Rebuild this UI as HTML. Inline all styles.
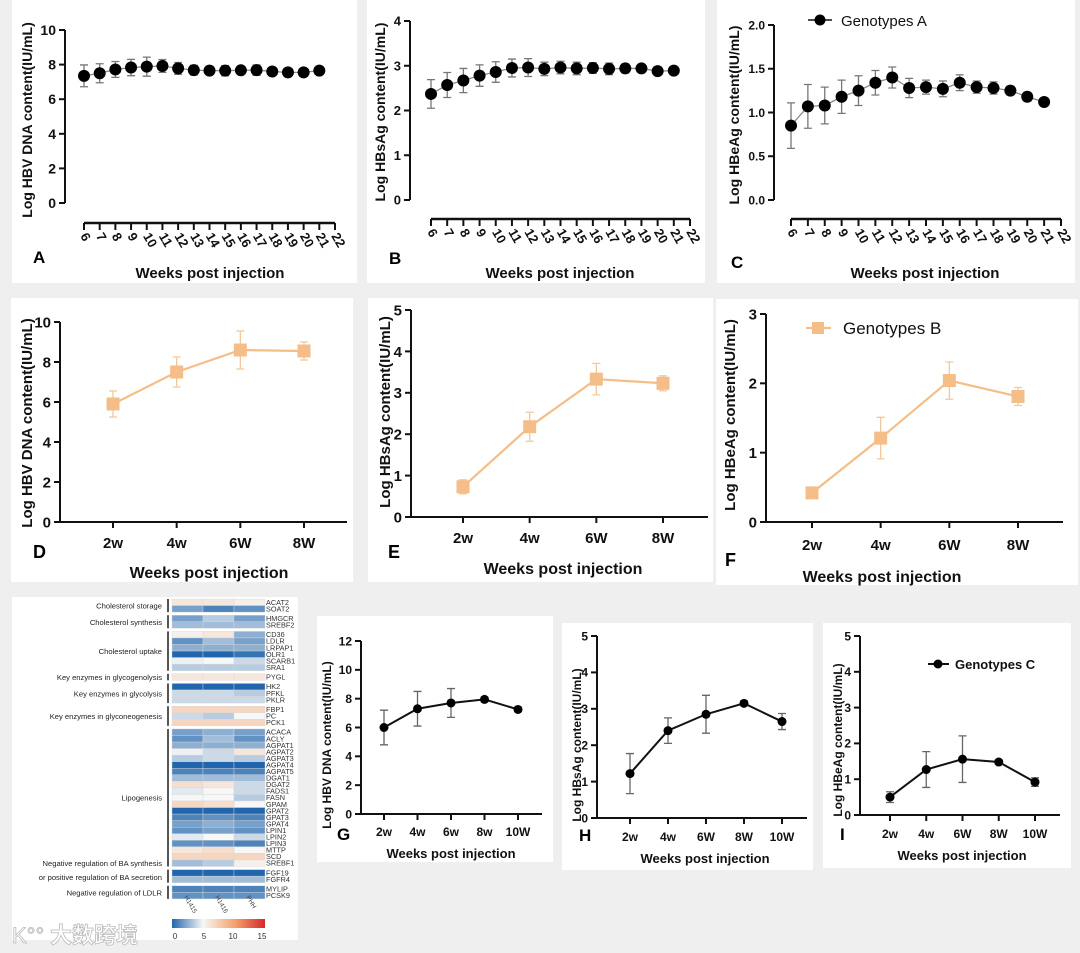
<!DOCTYPE html>
<html><head><meta charset="utf-8">
<style>
html,body{margin:0;padding:0;background:#efefef;}
svg{display:block;font-family:"Liberation Sans","Noto Sans CJK SC",sans-serif;}
</style></head>
<body>
<svg id="fig" width="1080" height="953" viewBox="0 0 1080 953" xmlns="http://www.w3.org/2000/svg">
<rect x="0" y="0" width="1080" height="953" fill="#efefef"/>
</svg>
<script>
// ---- data ----
const weeksA = [6,7,8,9,10,11,12,13,14,15,16,17,18,19,20,21];
const weekTicks = [6,7,8,9,10,11,12,13,14,15,16,17,18,19,20,21,22];
const dnaA = [7.35,7.5,7.72,7.83,7.88,7.92,7.78,7.68,7.65,7.65,7.67,7.68,7.6,7.55,7.55,7.65];
const dnaAErr = [0.63,0.55,0.46,0.47,0.55,0.37,0.34,0.28,0.2,0.3,0.15,0.3,0.15,0.1,0.1,0.2];
const hbsA = [2.37,2.57,2.67,2.78,2.86,2.95,2.96,2.93,2.96,2.94,2.95,2.93,2.94,2.94,2.88,2.89];
const hbsAErr = [0.32,0.28,0.27,0.24,0.23,0.2,0.2,0.15,0.14,0.14,0.12,0.13,0.1,0.06,0.05,0.05];
const hbeA = [0.85,1.07,1.08,1.18,1.25,1.34,1.40,1.28,1.29,1.27,1.34,1.29,1.28,1.25,1.18,1.12];
const hbeAErr = [0.26,0.25,0.21,0.19,0.17,0.14,0.12,0.11,0.08,0.09,0.09,0.07,0.07,0.05,0.05,0.03];
const catsB = ["2w","4w","6W","8W"];
const dnaB = [5.9,7.5,8.6,8.55];
const dnaBErr = [0.65,0.75,0.95,0.45];
const hbsB = [0.73,2.18,3.33,3.23];
const hbsBErr = [0.17,0.35,0.38,0.18];
const hbeB = [0.42,1.21,2.04,1.81];
const hbeBErr = [0.03,0.3,0.27,0.13];
const catsG = ["2w","4w","6w","8w","10W"];
const catsHI = ["2w","4w","6W","8W","10W"];
const dnaC = [6.0,7.3,7.7,7.95,7.25];
const dnaCErr = [1.2,1.2,1.0,0.15,0.15];
const hbsC = [1.22,2.4,2.85,3.15,2.65];
const hbsCErr = [0.55,0.35,0.52,0.06,0.22];
const hbeC = [0.5,1.27,1.56,1.48,0.92];
const hbeCErr = [0.15,0.5,0.65,0.06,0.12];
const genes = ["ACAT2","SOAT2","HMGCR","SREBF2","CD36","LDLR","LRPAP1","OLR1","SCARB1","SRA1","PYGL","HK2","PFKL","PKLR","FBP1","PC","PCK1","ACACA","ACLY","AGPAT1","AGPAT2","AGPAT3","AGPAT4","AGPAT5","DGAT1","DGAT2","FADS1","FASN","GPAM","GPAT2","GPAT3","GPAT4","LPIN1","LPIN2","LPIN3","MTTP","SCD","SREBF1","FGF19","FGFR4","MYLIP","PCSK9"];
const groupNames = ["Cholesterol storage","Cholesterol synthesis","Cholesterol uptake","Key enzymes in glycogenolysis","Key enzymes in glycolysis","Key enzymes in glyconeogenesis","Lipogenesis","Negative regulation of BA synthesis|or positive regulation of BA secretion","Negative regulation of LDLR"];
const groupSizes = [2,2,6,1,3,3,21,2,2];
const samples = ["H1415","H1416","PHH"];
const heatH1415 = [6,2,2,3,5.5,1.5,2.5,0,4.8,3.5,6,0,4,4,7,4,7,2,1.5,2.5,4.8,3.5,0,1,3,6.5,4.5,5,7,0,1,2,1.5,4.5,1.5,6,7,3,0,3,1,1.5];
const heatH1416 = [6,1,3.5,3,6,3,2.5,0,5,3.5,6,0,4,4,7,3.5,7,2.5,3,2.5,4,4,0,1,3,6,5,5,6.5,0,1.5,2.5,2,5,1.5,6.5,7,3.5,0,3,1,1.5];
const heatPHH = [5.5,1.5,2,3,2.5,2,2.5,0.5,4,3.5,6,0,3.5,4,7,5,7,2,1.5,2.5,6,3.5,0,1,3,4,4,3.5,5,0,1,2,1.5,4,1,5,7,5.5,0,3,1,1.5];
const cbTicks = [0,5,10,15];

const NS="http://www.w3.org/2000/svg";
const svg=document.getElementById('fig');
function mk(tag,attrs,parent){const e=document.createElementNS(NS,tag);for(const k in attrs)e.setAttribute(k,attrs[k]);(parent||svg).appendChild(e);return e;}
function txt(s,attrs,parent){const e=mk('text',attrs,parent);e.textContent=s;return e;}

function panelBox(x,y,w,h,name){
  const r=mk('rect',{x:x,y:y,width:w,height:h,fill:'#fff'});
  
  
}

function lineChart(o){
  const g=mk('g',{});
  
  
  const ys=v=>o.y0+(v-o.ymin)/(o.ymax-o.ymin)*(o.y1-o.y0);
  // y axis
  const ya=mk('line',{x1:o.ax,y1:o.y1,x2:o.ax,y2:o.y0,stroke:'#111','stroke-width':2},g);
  
  
  o.yticks.forEach((t,i)=>{
    const p=ys(t);
    const tk=mk('line',{x1:o.ax-6,y1:p,x2:o.ax,y2:p,stroke:'#111','stroke-width':2},g);
    
    
    const lb=txt(o.ylabels[i],{x:o.ax-9,y:p+o.tickFs*0.36,'text-anchor':'end','font-size':o.tickFs,'font-weight':'bold',fill:'#111'},g);
    
    
  });
  // x axis
  let xs;
  if(o.weeks){
    xs=w=>o.xa+(w-o.xt[0])/(o.xt[o.xt.length-1]-o.xt[0])*(o.xb-o.xa);
    const xl=mk('line',{x1:o.xa,y1:o.xy,x2:o.xb,y2:o.xy,stroke:'#111','stroke-width':2.5},g);
    
    
    o.xt.forEach(w=>{
      const p=xs(w);
      const tk=mk('line',{x1:p,y1:o.xy,x2:p,y2:o.xy+7,stroke:'#111','stroke-width':2},g);
      
      
      const lb=txt(String(w),{x:0,y:0,'font-size':13,'font-weight':'bold',fill:'#111',transform:'translate('+(p-4)+','+(o.xy+13)+') rotate(60)'},g);
      
      
    });
  } else {
    const n=o.cats.length;
    xs=i=>o.xa+i*(o.xb-o.xa)/(n-1);
    const xl=mk('line',{x1:o.ax,y1:o.y0,x2:o.xend,y2:o.y0,stroke:'#111','stroke-width':2},g);
    
    
    o.cats.forEach((c,i)=>{
      const p=xs(i);
      const tk=mk('line',{x1:p,y1:o.y0,x2:p,y2:o.y0+6,stroke:'#111','stroke-width':2},g);
      
      
      const lb=txt(c,{x:p,y:o.catY,'text-anchor':'middle','font-size':o.catFs,'font-weight':'bold',fill:'#111'},g);
      
      
    });
  }
  const keys=o.weeks?o.weeks:o.vals.map((v,i)=>i);
  // series line
  const pts=o.vals.map((v,i)=>xs(keys[i])+','+ys(v)).join(' ');
  const pl=mk('polyline',{points:pts,fill:'none',stroke:o.lineColor,'stroke-width':o.lineW},g);
  
  
  o.vals.forEach((v,i)=>{
    const px=xs(keys[i]),e=o.errs[i];
    const eb=mk('path',{d:'M'+px+','+ys(v-e)+'V'+ys(v+e)+'M'+(px-4)+','+ys(v-e)+'h8M'+(px-4)+','+ys(v+e)+'h8',stroke:o.errColor,'stroke-width':1.3,fill:'none'},g);
    
    
    let m;
    if(o.marker==='square') m=mk('rect',{x:px-o.ms,y:ys(v)-o.ms,width:o.ms*2,height:o.ms*2,fill:o.markColor},g);
    else m=mk('circle',{cx:px,cy:ys(v),r:o.ms,fill:o.markColor},g);
    
    
  });
  // titles
  const yt=txt(o.ytitle,{x:0,y:0,'text-anchor':'middle','font-size':o.ytFs,'font-weight':'bold',fill:'#111','xml:space':'preserve',transform:'translate('+o.ytx+','+o.yty+') rotate(-90)'},g);
  
  
  const xt=txt('Weeks post injection',{x:o.xtx,y:o.xty,'text-anchor':'middle','font-size':o.xtFs,'font-weight':'bold',fill:'#111'},g);
  
  
  const pl2=txt(o.letter,{x:o.lx,y:o.ly,'font-size':o.lFs,'font-weight':'bold',fill:'#000'},g);
  
  
}

// panel backgrounds
panelBox(12,0,345,283,'panel-a-bg');
panelBox(367,0,338,283,'panel-b-bg');
panelBox(717,0,358,283,'panel-c-bg');
panelBox(11,298,342,284,'panel-d-bg');
panelBox(368,298,345,284,'panel-e-bg');
panelBox(716,299,362,286,'panel-f-bg');
panelBox(12,597,286,343,'panel-heatmap-bg');
panelBox(317,616,236,246,'panel-g-bg');
panelBox(562,623,251,247,'panel-h-bg');
panelBox(823,623,248,245,'panel-i-bg');

const wt=[6,22];
lineChart({name:'chart-a',ax:65,y0:203,y1:30,ymin:0,ymax:10,yticks:[0,2,4,6,8,10],ylabels:['0','2','4','6','8','10'],tickFs:14,
  weeks:weeksA,xt:weekTicks,xa:84,xb:335,xy:223,vals:dnaA,errs:dnaAErr,lineColor:'#888',lineW:1.3,errColor:'#777',marker:'circle',ms:6,markColor:'#000',
  ytitle:'Log HBV DNA content(IU/mL)',ytFs:14,ytx:32,yty:120,xtx:210,xty:278,xtFs:15,letter:'A',lx:33,ly:263,lFs:17});
lineChart({name:'chart-b',ax:410,y0:200,y1:21,ymin:0,ymax:4,yticks:[0,1,2,3,4],ylabels:['0','1','2','3','4'],tickFs:13,
  weeks:weeksA,xt:weekTicks,xa:431,xb:690,xy:219,vals:hbsA,errs:hbsAErr,lineColor:'#888',lineW:1.3,errColor:'#777',marker:'circle',ms:6,markColor:'#000',
  ytitle:'Log HBsAg content(IU/mL)',ytFs:14,ytx:385,yty:112,xtx:560,xty:278,xtFs:15,letter:'B',lx:389,ly:264,lFs:17});
lineChart({name:'chart-c',ax:774,y0:200,y1:25,ymin:0,ymax:2,yticks:[0,0.5,1,1.5,2],ylabels:['0.0','0.5','1.0','1.5','2.0'],tickFs:12,
  weeks:weeksA,xt:weekTicks,xa:791,xb:1061,xy:219,vals:hbeA,errs:hbeAErr,lineColor:'#888',lineW:1.3,errColor:'#777',marker:'circle',ms:6,markColor:'#000',
  ytitle:'Log HBeAg content(IU/mL)',ytFs:14,ytx:739,yty:115,xtx:925,xty:278,xtFs:15,letter:'C',lx:731,ly:268,lFs:17});

lineChart({name:'chart-d',ax:60,y0:522,y1:322,ymin:0,ymax:10,yticks:[0,2,4,6,8,10],ylabels:['0','2','4','6','8','10'],tickFs:15,
  cats:catsB,xa:113,xb:304,xend:347,catY:548,catFs:15,vals:dnaB,errs:dnaBErr,lineColor:'#f5bd87',lineW:2.2,errColor:'#f3c89b',marker:'square',ms:6.5,markColor:'#f5bd87',
  ytitle:'Log HBV DNA  content(IU/mL)',ytFs:15,ytx:32,yty:423,xtx:209,xty:578,xtFs:16,letter:'D',lx:33,ly:558,lFs:18});
lineChart({name:'chart-e',ax:411,y0:517,y1:310,ymin:0,ymax:5,yticks:[0,1,2,3,4,5],ylabels:['0','1','2','3','4','5'],tickFs:15,
  cats:catsB,xa:463,xb:663,xend:708,catY:543,catFs:15,vals:hbsB,errs:hbsBErr,lineColor:'#f5bd87',lineW:2.2,errColor:'#f3c89b',marker:'square',ms:6.5,markColor:'#f5bd87',
  ytitle:'Log HBsAg  content(IU/mL)',ytFs:15,ytx:390,yty:412,xtx:563,xty:574,xtFs:16,letter:'E',lx:388,ly:558,lFs:18});
lineChart({name:'chart-f',ax:766,y0:522,y1:314,ymin:0,ymax:3,yticks:[0,1,2,3],ylabels:['0','1','2','3'],tickFs:15,
  cats:catsB,xa:812,xb:1018,xend:1063,catY:550,catFs:15,vals:hbeB,errs:hbeBErr,lineColor:'#f5bd87',lineW:2.2,errColor:'#f3c89b',marker:'square',ms:6.5,markColor:'#f5bd87',
  ytitle:'Log HBeAg  content(IU/mL)',ytFs:15,ytx:735,yty:415,xtx:882,xty:582,xtFs:16,letter:'F',lx:725,ly:566,lFs:18});

lineChart({name:'chart-g',ax:361,y0:814,y1:641,ymin:0,ymax:12,yticks:[0,2,4,6,8,10,12],ylabels:['0','2','4','6','8','10','12'],tickFs:12,
  cats:catsG,xa:384,xb:518,xend:542,catY:836,catFs:12,vals:dnaC,errs:dnaCErr,lineColor:'#111',lineW:2,errColor:'#666',marker:'circle',ms:4.5,markColor:'#000',
  ytitle:'Log HBV DNA  content(IU/mL)',ytFs:12,ytx:331,yty:745,xtx:451,xty:858,xtFs:13,letter:'G',lx:337,ly:840,lFs:17});
lineChart({name:'chart-h',ax:597,y0:818,y1:636,ymin:0,ymax:5,yticks:[0,1,2,3,4,5],ylabels:['0','1','2','3','4','5'],tickFs:12,
  cats:catsHI,xa:630,xb:782,xend:807,catY:841,catFs:12,vals:hbsC,errs:hbsCErr,lineColor:'#111',lineW:2,errColor:'#666',marker:'circle',ms:4.5,markColor:'#000',
  ytitle:'Log HBsAg  content(IU/mL)',ytFs:12,ytx:581,yty:745,xtx:705,xty:863,xtFs:13,letter:'H',lx:579,ly:841,lFs:17});
lineChart({name:'chart-i',ax:860,y0:815,y1:636,ymin:0,ymax:5,yticks:[0,1,2,3,4,5],ylabels:['0','1','2','3','4','5'],tickFs:12,
  cats:catsHI,xa:890,xb:1035,xend:1060,catY:838,catFs:12,vals:hbeC,errs:hbeCErr,lineColor:'#111',lineW:2,errColor:'#666',marker:'circle',ms:4.5,markColor:'#000',
  ytitle:'Log HBeAg  content(IU/mL)',ytFs:12,ytx:842,yty:740,xtx:962,xty:860,xtFs:13,letter:'I',lx:840,ly:840,lFs:17});

// legends
(function(){
  const g=mk('g',{});
  
  
  mk('line',{x1:808,y1:20,x2:832,y2:20,stroke:'#111','stroke-width':1.5},g);
  mk('circle',{cx:820,cy:20,r:5.5,fill:'#000'},g);
  const t=txt('Genotypes A',{x:841,y:26,'font-size':15,fill:'#111'},g);
  
  
  const g2=mk('g',{});
  
  
  mk('line',{x1:806,y1:328,x2:831,y2:328,stroke:'#f5bd87','stroke-width':2.2},g2);
  mk('rect',{x:812,y:322,width:12,height:12,fill:'#f5bd87'},g2);
  const t2=txt('Genotypes B',{x:843,y:334,'font-size':17,fill:'#111'},g2);
  
  
  const g3=mk('g',{});
  
  
  mk('line',{x1:928,y1:664,x2:949,y2:664,stroke:'#111','stroke-width':2},g3);
  mk('circle',{cx:938,cy:664,r:4.5,fill:'#000'},g3);
  const t3=txt('Genotypes C',{x:955,y:669,'font-size':13,'font-weight':'bold',fill:'#111'},g3);
  
  
})();

// heatmap
function heatColor(v){
  const stops=[[0,[33,102,172]],[5,[247,247,247]],[10,[244,165,110]],[15,[214,40,40]]];
  for(let i=0;i<stops.length-1;i++){
    const a=stops[i],b=stops[i+1];
    if(v<=b[0]){const t=(v-a[0])/(b[0]-a[0]);return 'rgb('+a[1].map((c,k)=>Math.round(c+(b[1][k]-c)*t)).join(',')+')';}
  }
  return 'rgb(214,40,40)';
}
(function(){
  const g=mk('g',{});
  
  
  const hx=172,cw=31,rh=6.55,gap=3.1;
  const cols=[heatH1415,heatH1416,heatPHH];
  let y=599,gi=0,inG=0,gStart=599;
  genes.forEach((gene,r)=>{
    cols.forEach((col,c)=>{
      const cell=mk('rect',{x:hx+c*cw,y:y,width:cw,height:rh,fill:heatColor(col[r]),stroke:'#d8d8d8','stroke-width':0.4},g);
      
      
    });
    const gl=txt(gene,{x:266,y:y+rh-0.8,'font-size':7.3,fill:'#333'},g);
    
    
    y+=rh;inG++;
    if(inG===groupSizes[gi]){
      const bar=mk('line',{x1:168,y1:gStart,x2:168,y2:y,stroke:'#555','stroke-width':2},g);
      
      
      const mid=(gStart+y)/2;
      const parts=groupNames[gi].split('|');
      if(parts.length===2){
        const a=txt(parts[0],{x:162,y:mid-10,'text-anchor':'end','font-size':7.6,fill:'#222'},g);
        
        
        const b=txt(parts[1],{x:162,y:mid+4,'text-anchor':'end','font-size':7.6,fill:'#222'},g);
        
        
      } else {
        const a=txt(parts[0],{x:162,y:mid+3,'text-anchor':'end','font-size':7.6,fill:'#222'},g);
        
        
      }
      gi++;inG=0;y+=gap;gStart=y;
    }
  });
  samples.forEach((s,c)=>{
    const t=txt(s,{x:0,y:0,'font-size':6.5,fill:'#444',transform:'translate('+(hx+c*cw+12)+',897) rotate(60)'},g);
    
    
  });
  // colorbar
  const defs=mk('defs',{},g);
  const lg=mk('linearGradient',{id:'cbg',x1:'0',x2:'1',y1:'0',y2:'0'},defs);
  [0,5,10,15].forEach(v=>mk('stop',{offset:(v/15),'stop-color':heatColor(v)},lg));
  const cb=mk('rect',{x:172,y:919,width:93,height:9,fill:'url(#cbg)'},g);
  
  
  cbTicks.forEach(v=>{
    const t=txt(String(v),{x:175+v/15*87,y:939,'text-anchor':'middle','font-size':8,fill:'#333'},g);
    
    
  });
  const wm=txt('大数跨境',{x:50,y:943,'font-size':22,'font-weight':'bold',fill:'#fff',stroke:'#bbb','stroke-width':0.8},g);
  
  
  const wl=txt('K°°',{x:12,y:943,'font-size':22,fill:'#fff',stroke:'#bbb','stroke-width':0.8},g);
  
  
})();
</script>
</body></html>
